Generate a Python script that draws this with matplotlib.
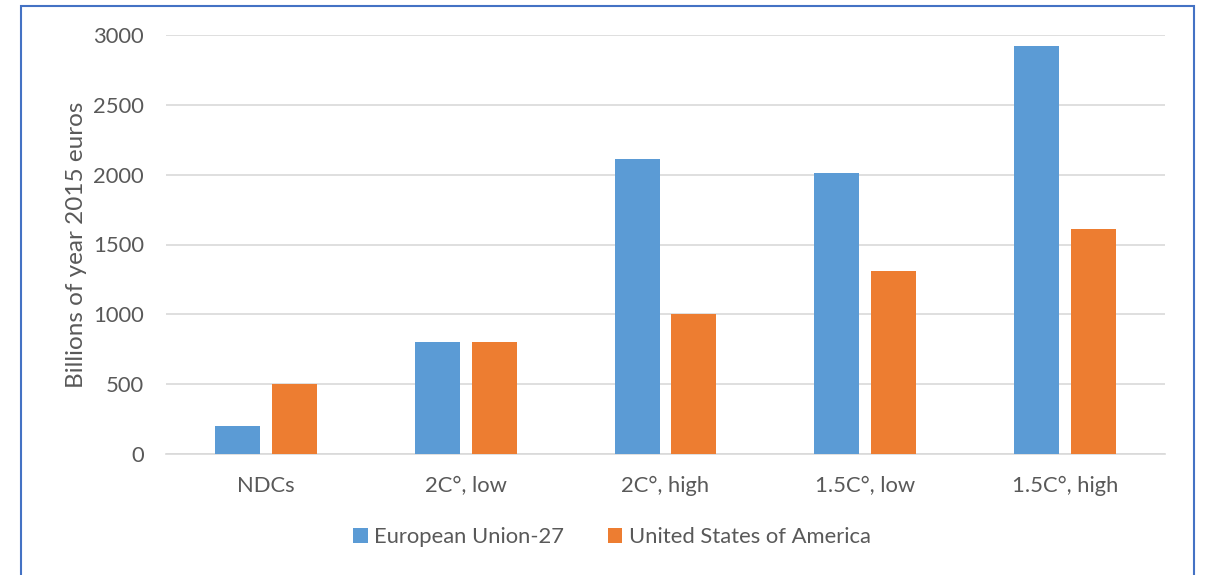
import matplotlib

matplotlib.use("Agg")
import matplotlib.pyplot as plt  # noqa: E402
import numpy as np  # noqa: E402
from matplotlib.patches import Rectangle  # noqa: E402

# ---------------- data ----------------
categories = ["NDCs", "2C°, low", "2C°, high", "1.5C°, low", "1.5C°, high"]
eu27 = [200, 800, 2110, 2010, 2920]
usa = [500, 800, 1000, 1310, 1610]
series_names = ["European Union-27", "United States of America"]
yticks = [0, 500, 1000, 1500, 2000, 2500, 3000]

BLUE, ORANGE, TXT = "#5B9BD5", "#ED7D31", "#595959"
plt.rcParams["font.family"] = ["Lato", "DejaVu Sans"]

fig = plt.figure(figsize=(12.06, 5.75), dpi=100)
W, H = 1206, 575
ax = fig.add_axes([166 / W, 1 - 454 / H, 999 / W, 419 / H])

x = np.arange(len(categories))
bw = 0.225
ax.bar(x - 0.142, eu27, bw, color=BLUE, label=series_names[0], zorder=3)
ax.bar(x + 0.142, usa, bw, color=ORANGE, label=series_names[1], zorder=3)

ax.set_xlim(-0.5, len(categories) - 0.5)
ax.set_ylim(0, 3000)
ax.set_yticks(yticks)
ax.set_xticks(x, categories)
ax.grid(axis="y", color="#D9D9D9", linewidth=1.2, zorder=0)
for s in ("top", "right", "left"):
    ax.spines[s].set_visible(False)
ax.spines["bottom"].set_color("#D9D9D9")
ax.spines["bottom"].set_linewidth(1.2)
ax.tick_params(length=0, labelsize=15.8, colors=TXT)
ax.tick_params(axis="x", pad=16)
ax.tick_params(axis="y", pad=16)
ax.set_ylabel("Billions of year 2015 euros", fontsize=17.5, color=TXT, labelpad=4)

fig.legend(loc="center", bbox_to_anchor=(612 / W, 1 - 537 / H), ncol=2, frameon=False,
           fontsize=15.8, labelcolor=TXT, handlelength=0.65, handleheight=0.65,
           handletextpad=0.3, columnspacing=2.0)

fig.patches.append(Rectangle((21 / W, -0.05), (1194 - 21) / W, 1.05 - 6 / H,
                             transform=fig.transFigure, fill=False,
                             edgecolor="#4472C4", linewidth=1.5))

fig.savefig("out.png", dpi=100)
